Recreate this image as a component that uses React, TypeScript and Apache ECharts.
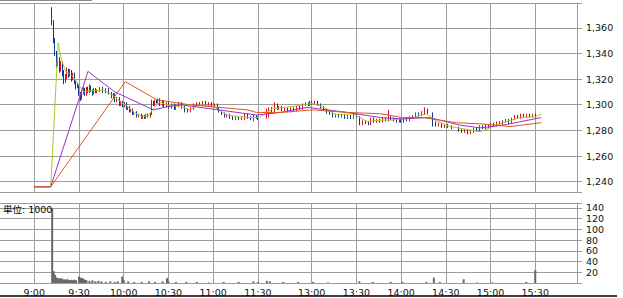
import React, { useEffect, useRef } from "react";
import * as echarts from "echarts";

// one slot per minute on a compressed intraday axis (lunch break mostly removed)
const SLOT_COUNT = 388;
const TICK_SLOTS = [23, 53, 83, 113, 143, 173, 209, 239, 269, 299, 329, 359];
const TICK_LABELS = ["9:00", "9:30", "10:00", "10:30", "11:00", "11:30", "13:00", "13:30", "14:00", "14:30", "15:00", "15:30"];

// [slot, open, close, low, high]
const CANDLES: number[][] = [
  [35, 1375, 1364, 1362, 1376], [36, 1364, 1350, 1348, 1366], [37, 1350, 1341, 1338, 1352],
  [38, 1341, 1332, 1329, 1342], [39, 1332, 1336, 1330, 1338], [40, 1336, 1328, 1325, 1337],
  [41, 1328, 1333, 1326, 1334], [42, 1333, 1325, 1322, 1334], [43, 1325, 1318, 1316, 1327],
  [44, 1318, 1322, 1317, 1324], [45, 1322, 1327, 1320, 1329], [46, 1327, 1323, 1321, 1328],
  [47, 1323, 1326, 1322, 1328], [48, 1326, 1320, 1318, 1327], [49, 1320, 1324, 1319, 1325],
  [50, 1324, 1318, 1316, 1325], [51, 1318, 1314, 1312, 1319], [52, 1314, 1315, 1313, 1317],
  [53, 1315, 1309, 1307, 1316], [54, 1309, 1305, 1303, 1310], [55, 1305, 1310, 1304, 1311],
  [56, 1310, 1312, 1308, 1314], [57, 1312, 1308, 1307, 1313], [58, 1308, 1313, 1307, 1314],
  [59, 1313, 1310, 1309, 1314], [60, 1310, 1314, 1309, 1316], [61, 1314, 1311, 1310, 1315],
  [62, 1311, 1309, 1307, 1312], [63, 1309, 1312, 1308, 1313], [64, 1312, 1310, 1309, 1313],
  [65, 1310, 1311, 1309, 1312], [67, 1311, 1313, 1310, 1314], [69, 1313, 1310, 1309, 1314],
  [71, 1310, 1312, 1309, 1313], [73, 1312, 1309, 1308, 1313], [75, 1309, 1306, 1305, 1310],
  [76, 1306, 1308, 1305, 1309], [77, 1308, 1303, 1302, 1309], [78, 1303, 1305, 1302, 1306],
  [80, 1305, 1300, 1299, 1306], [81, 1300, 1302, 1299, 1303], [82, 1302, 1299, 1298, 1303],
  [84, 1299, 1301, 1298, 1302], [85, 1301, 1297, 1296, 1302], [86, 1297, 1298, 1296, 1299],
  [87, 1298, 1295, 1294, 1299], [88, 1295, 1296, 1294, 1297], [89, 1296, 1293, 1292, 1297],
  [90, 1293, 1294, 1292, 1295], [92, 1294, 1291, 1290, 1295], [93, 1291, 1292, 1290, 1293],
  [95, 1292, 1290, 1289, 1293], [96, 1290, 1291, 1289, 1292], [97, 1291, 1290, 1289, 1292],
  [98, 1290, 1292, 1289, 1293], [99, 1292, 1291, 1290, 1293], [101, 1291, 1293, 1290, 1294],
  [102, 1293, 1302, 1292, 1304], [103, 1302, 1300, 1299, 1303], [104, 1300, 1303, 1299, 1304],
  [105, 1303, 1302, 1301, 1304], [106, 1302, 1304, 1301, 1305], [107, 1304, 1300, 1299, 1305],
  [109, 1300, 1302, 1299, 1303], [110, 1302, 1299, 1298, 1303], [112, 1299, 1301, 1298, 1302],
  [113, 1301, 1298, 1297, 1302], [115, 1298, 1300, 1297, 1301], [117, 1300, 1297, 1296, 1301],
  [118, 1297, 1299, 1296, 1300], [120, 1299, 1301, 1298, 1302], [122, 1301, 1298, 1297, 1302],
  [124, 1298, 1296, 1294, 1299], [126, 1296, 1295, 1294, 1297], [128, 1295, 1297, 1294, 1298],
  [130, 1297, 1300, 1296, 1301], [132, 1300, 1301, 1299, 1302], [134, 1301, 1300, 1299, 1302],
  [136, 1300, 1302, 1299, 1303], [138, 1302, 1300, 1299, 1303], [140, 1300, 1301, 1299, 1302],
  [142, 1301, 1299, 1298, 1302], [144, 1299, 1300, 1298, 1301], [146, 1300, 1297, 1296, 1301],
  [147, 1297, 1295, 1294, 1298], [149, 1295, 1293, 1292, 1296], [151, 1293, 1291, 1290, 1294],
  [152, 1291, 1292, 1290, 1293], [154, 1292, 1290, 1289, 1293], [156, 1290, 1289, 1288, 1291],
  [158, 1289, 1290, 1288, 1291], [160, 1290, 1289, 1288, 1291], [162, 1289, 1290, 1288, 1291],
  [164, 1289, 1292, 1288, 1293], [166, 1292, 1290, 1289, 1293], [168, 1290, 1289, 1288, 1291],
  [170, 1289, 1291, 1287, 1293], [172, 1291, 1290, 1289, 1292], [173, 1290, 1289, 1288, 1291],
  [179, 1290, 1295, 1289, 1297], [180, 1295, 1297, 1290, 1298], [182, 1297, 1294, 1293, 1298],
  [184, 1294, 1300, 1293, 1302], [186, 1300, 1297, 1296, 1301], [187, 1297, 1298, 1296, 1299],
  [189, 1298, 1296, 1295, 1299], [191, 1296, 1297, 1295, 1298], [193, 1297, 1295, 1294, 1298],
  [195, 1295, 1297, 1294, 1298], [197, 1297, 1296, 1295, 1298], [199, 1296, 1298, 1295, 1299],
  [201, 1298, 1297, 1296, 1299], [203, 1297, 1300, 1296, 1301], [205, 1300, 1301, 1299, 1302],
  [207, 1301, 1300, 1299, 1302], [208, 1300, 1302, 1299, 1303], [209, 1302, 1301, 1300, 1303],
  [211, 1301, 1302, 1300, 1303], [213, 1302, 1300, 1299, 1303], [215, 1300, 1298, 1297, 1301],
  [217, 1298, 1296, 1295, 1299], [219, 1296, 1294, 1293, 1297], [221, 1294, 1293, 1292, 1295],
  [223, 1293, 1291, 1290, 1294], [225, 1291, 1292, 1290, 1293], [227, 1292, 1291, 1290, 1293],
  [229, 1291, 1292, 1290, 1293], [231, 1292, 1290, 1289, 1293], [233, 1290, 1291, 1289, 1292],
  [235, 1291, 1290, 1289, 1292], [237, 1290, 1292, 1289, 1293], [239, 1292, 1291, 1290, 1293],
  [241, 1291, 1285, 1284, 1291], [243, 1285, 1287, 1284, 1288], [245, 1287, 1286, 1285, 1288],
  [247, 1286, 1285, 1284, 1287], [249, 1285, 1289, 1284, 1290], [251, 1289, 1287, 1286, 1290],
  [253, 1287, 1288, 1286, 1289], [255, 1288, 1287, 1286, 1289], [257, 1287, 1289, 1286, 1290],
  [259, 1289, 1288, 1287, 1290], [261, 1288, 1290, 1287, 1296], [262, 1290, 1289, 1288, 1291],
  [264, 1289, 1288, 1287, 1290], [266, 1288, 1287, 1286, 1289], [268, 1287, 1288, 1286, 1289],
  [269, 1288, 1287, 1286, 1289], [271, 1287, 1289, 1286, 1290], [273, 1289, 1288, 1287, 1290],
  [275, 1288, 1290, 1287, 1291], [277, 1290, 1291, 1289, 1292], [279, 1291, 1293, 1290, 1294],
  [281, 1293, 1292, 1291, 1294], [283, 1292, 1294, 1291, 1295], [285, 1293, 1296, 1292, 1298],
  [287, 1296, 1294, 1293, 1297], [290, 1294, 1286, 1283, 1294], [292, 1286, 1284, 1283, 1287],
  [294, 1284, 1285, 1283, 1286], [296, 1285, 1283, 1282, 1286], [298, 1283, 1284, 1282, 1285],
  [300, 1284, 1283, 1282, 1285], [303, 1283, 1282, 1281, 1284], [308, 1282, 1280, 1279, 1283],
  [310, 1280, 1279, 1278, 1281], [312, 1279, 1280, 1278, 1281], [314, 1280, 1278, 1277, 1281],
  [316, 1278, 1279, 1277, 1280], [318, 1279, 1281, 1278, 1282], [320, 1281, 1280, 1279, 1282],
  [322, 1280, 1283, 1279, 1284], [324, 1283, 1282, 1281, 1284], [326, 1282, 1284, 1281, 1285],
  [328, 1284, 1283, 1282, 1285], [329, 1283, 1285, 1282, 1286], [331, 1285, 1284, 1283, 1286],
  [333, 1284, 1286, 1283, 1287], [335, 1286, 1285, 1284, 1287], [337, 1285, 1287, 1284, 1288],
  [339, 1287, 1288, 1286, 1289], [341, 1288, 1286, 1285, 1289], [343, 1286, 1289, 1285, 1290],
  [345, 1289, 1291, 1288, 1292], [347, 1291, 1290, 1289, 1292], [349, 1290, 1292, 1289, 1293],
  [351, 1292, 1291, 1290, 1293], [353, 1291, 1292, 1290, 1293], [355, 1292, 1291, 1290, 1293],
  [357, 1291, 1292, 1290, 1293], [359, 1292, 1291, 1290, 1293],
];

// moving averages: [slot, value]
const MA_SHORT: number[][] = [
  [23, 1236], [34, 1236], [39, 1348], [41, 1336], [44, 1326], [48, 1323], [52, 1317], [56, 1310],
  [60, 1311], [65, 1311], [70, 1311], [75, 1308], [80, 1303], [85, 1299], [90, 1294], [95, 1291],
  [99, 1291], [103, 1297], [107, 1302], [112, 1300], [118, 1299], [121, 1299], [127, 1296],
  [134, 1300], [143, 1299], [152, 1292], [166, 1290], [174, 1290], [183, 1297], [192, 1298],
  [210, 1301], [217, 1298], [226, 1292], [237, 1293], [246, 1287], [255, 1288], [262, 1288],
  [277, 1290], [286, 1293], [293, 1287], [302, 1283], [322, 1279], [337, 1286], [349, 1290],
  [360, 1291], [363, 1293],
];
const MA_MID: number[][] = [
  [23, 1236], [34, 1236], [59, 1326], [77, 1310], [103, 1296], [110, 1298], [121, 1300],
  [140, 1297], [172, 1292], [188, 1294], [206, 1298], [233, 1294], [255, 1290], [270, 1289],
  [288, 1290], [309, 1284], [322, 1282], [337, 1284], [363, 1290],
];
const MA_LONG: number[][] = [
  [23, 1236], [34, 1236], [84, 1318], [105, 1304], [127, 1300], [166, 1296], [172, 1294],
  [188, 1294], [210, 1296], [233, 1294], [255, 1293], [270, 1290], [284, 1290], [306, 1286],
  [324, 1285], [342, 1283], [363, 1286],
];

// volume in thousands: [slot, value]
const VOLUME: number[][] = [
  [35, 139], [36, 22], [37, 15], [38, 10], [39, 9], [40, 8], [41, 9], [42, 7], [43, 7], [44, 6],
  [45, 7], [46, 6], [47, 5], [48, 6], [49, 5], [50, 6], [51, 5], [53, 12], [54, 10], [55, 9],
  [56, 8], [57, 6], [58, 5], [60, 4], [62, 5], [64, 3], [66, 4], [68, 3], [71, 2], [74, 3],
  [77, 2], [79, 3], [82, 12], [83, 5], [86, 3], [90, 2], [95, 2], [100, 3], [104, 2], [109, 3],
  [112, 9], [113, 3], [118, 2], [125, 2], [132, 2], [140, 1], [150, 2], [160, 2], [170, 3],
  [173, 2], [179, 4], [181, 3], [190, 2], [200, 2], [210, 2], [220, 1], [241, 3], [250, 2],
  [262, 2], [270, 2], [286, 2], [291, 10], [295, 2], [311, 7], [320, 1], [330, 1], [353, 2],
  [359, 24],
];

const GRID_COLOR = "#9c9c9c";
const FONT = "DejaVu Sans";
const UP = "#e2101e";
const DOWN = "#0b3a90";

export default function App() {
  const ref = useRef<HTMLDivElement>(null);
  useEffect(() => {
    if (!ref.current) return;
    const chart = echarts.init(ref.current, undefined, { renderer: "svg" });
    const slots = Array.from({ length: SLOT_COUNT }, (_, i) => String(i));
    const isTick = (idx: number) => TICK_SLOTS.indexOf(idx) >= 0;
    const xAxis = [0, 1].map((g) => ({
      type: "category",
      gridIndex: g,
      data: slots,
      boundaryGap: false,
      axisLine: { show: g === 1, lineStyle: { color: GRID_COLOR, width: 1 } },
      axisTick: { show: false },
      axisLabel: {
        show: g === 1,
        interval: (idx: number) => isTick(idx),
        formatter: (_v: string, idx: number) => {
          const k = TICK_SLOTS.indexOf(idx);
          return k >= 0 ? TICK_LABELS[k] : "";
        },
        color: "#111",
        fontSize: 9.5,
        fontFamily: FONT,
        margin: 4,
      },
      splitLine: { show: true, interval: (idx: number) => isTick(idx), lineStyle: { color: GRID_COLOR, width: 1 } },
    }));
    const yCommon = {
      type: "value",
      position: "right",
      axisLine: { show: true, lineStyle: { color: GRID_COLOR, width: 1 } },
      axisTick: { show: true, length: 5, lineStyle: { color: GRID_COLOR } },
      splitLine: { show: true, lineStyle: { color: GRID_COLOR, width: 1 } },
    };
    const option: any = {
      animation: false,
      backgroundColor: "#ffffff",
      grid: [
        { left: 0, top: 3, width: 577, height: 189 },
        { left: 0, top: 203, width: 577, height: 80 },
      ],
      xAxis,
      yAxis: [
        {
          ...yCommon,
          gridIndex: 0,
          min: 1232,
          max: 1379.3,
          splitNumber: 7,
          axisLabel: {
            margin: 9,
            color: "#111",
            fontSize: 9.5,
            fontFamily: FONT,
            formatter: (v: number) =>
              Math.abs(v % 20) < 1e-6 ? v.toLocaleString("en-US") : "",
          },
        },
        {
          ...yCommon,
          gridIndex: 1,
          min: 0,
          max: 149,
          interval: 20,
          axisLabel: {
            margin: 9,
            color: "#111",
            fontSize: 9.5,
            fontFamily: FONT,
            formatter: (v: number) => (v > 0 && v % 20 === 0 ? String(v) : ""),
          },
        },
      ],
      series: [
        {
          type: "candlestick",
          xAxisIndex: 0,
          yAxisIndex: 0,
          data: CANDLES,
          encode: { x: 0, y: [1, 2, 3, 4] },
          barWidth: 1,
          itemStyle: { color: UP, color0: DOWN, borderColor: UP, borderColor0: DOWN, borderWidth: 1 },
        },
        {
          type: "line", xAxisIndex: 0, yAxisIndex: 0, data: MA_SHORT, showSymbol: false,
          lineStyle: { color: "#a9c62a", width: 1 },
        },
        {
          type: "line", xAxisIndex: 0, yAxisIndex: 0, data: MA_MID, showSymbol: false,
          lineStyle: { color: "#9a2fd0", width: 1 },
        },
        {
          type: "line", xAxisIndex: 0, yAxisIndex: 0, data: MA_LONG, showSymbol: false,
          lineStyle: { color: "#e0561e", width: 1 },
        },
        {
          type: "bar", xAxisIndex: 1, yAxisIndex: 1, data: VOLUME, barWidth: 2,
          itemStyle: { color: "#676767" },
        },
      ],
      graphic: [
        { type: "line", shape: { x1: 0, y1: 0.5, x2: 92, y2: 0.5 }, style: { stroke: "#8a8a8a", lineWidth: 1 } },
        { type: "line", shape: { x1: 0, y1: 296, x2: 617, y2: 296 }, style: { stroke: "#000", lineWidth: 1.5 } },
        {
          type: "text", left: 3, top: 205, z: 10,
          style: { text: "単位: 1000", fill: "#000", fontSize: 9.5, fontFamily: "DejaVu Sans, 'Noto Sans CJK JP'" },
        },
      ],
    };
    chart.setOption(option);
    return () => chart.dispose();
  }, []);
  return (
    <div
      ref={ref}
      style={{ position: "fixed", left: 0, top: 0, width: 623, height: 298, background: "#fff" }}
    />
  );
}
